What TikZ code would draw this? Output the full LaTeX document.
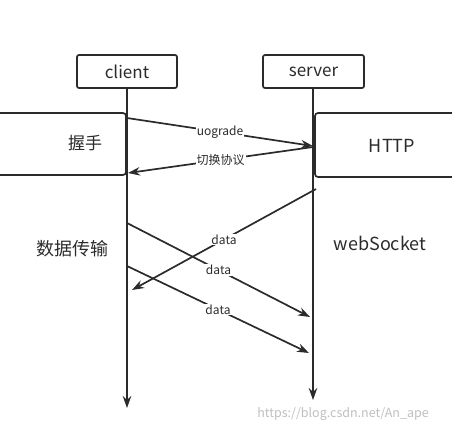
\documentclass[tikz,border=0pt]{standalone}
\usepackage{fontspec}
\setmainfont{Noto Sans CJK SC}
\usetikzlibrary{arrows.meta}
\definecolor{ink}{HTML}{2B2B2B}
\def\lbl{node[midway, fill=white, inner sep=1pt, font=\fontsize{12}{14}\selectfont]}

\begin{document}
\begin{tikzpicture}[x=1pt, y=-1pt, color=ink, line width=1.7pt, >={Stealth[length=12pt,width=8.5pt]}]
        \useasboundingbox (0,0) rectangle (452,432);
        \clip (0,0) rectangle (452,432);
        % phase boxes
        \draw[rounded corners=3pt] (-10,113) rectangle (126,175);
        \draw[rounded corners=3pt] (315,113) rectangle (470,177);
        \node[font=\fontsize{17}{20}\selectfont] (shake) at (85,143) {握手};
        \node[font=\fontsize{18}{20}\selectfont] (http) at (392,146) {HTTP};
        \node[font=\fontsize{18}{20}\selectfont] (trans) at (72,249) {数据传输};
        \node[font=\fontsize{18}{20}\selectfont] (ws) at (380,243) {webSocket};
        % lifelines
        \node[draw, fill=white, rounded corners=2pt, minimum width=100pt, minimum height=33pt, font=\fontsize{17}{20}\selectfont] (client) at (127,71.5) {client};
        \node[draw, fill=white, rounded corners=2pt, minimum width=101pt, minimum height=33pt, font=\fontsize{17}{20}\selectfont] (server) at (313.5,71.5) {server};
        \coordinate (cend) at (127,408);
        \coordinate (send) at (313,400);
        \draw[->] (client) -- (cend);
        \draw[->] (server.south -| send) -- (send);
        % message ends
        \foreach \n/\cx/\cy/\sx/\sy in {1/127/118/313/146, 2/128/173/313/147, 3/132/290/316/189, 4/127/223/310/317, 5/127/266/309/353}{
        \coordinate (c\n) at (\cx,\cy);
        \coordinate (s\n) at (\sx,\sy);
        }
        \draw[->] (c1) -- (s1) \lbl{uograde};
        \draw[->] (s2) -- (c2) \lbl{切换协议};
        \draw[->] (s3) -- (c3) \lbl{data};
        \draw[->] (c4) -- (s4) \lbl{data};
        \draw[->] (c5) -- (s5) \lbl{data};
        \node[color=black!25, font=\fontsize{12.5}{14}\selectfont] (mark) at (343,414) {https://blog.csdn.net/An\_ape};
      \end{tikzpicture}
\end{document}
